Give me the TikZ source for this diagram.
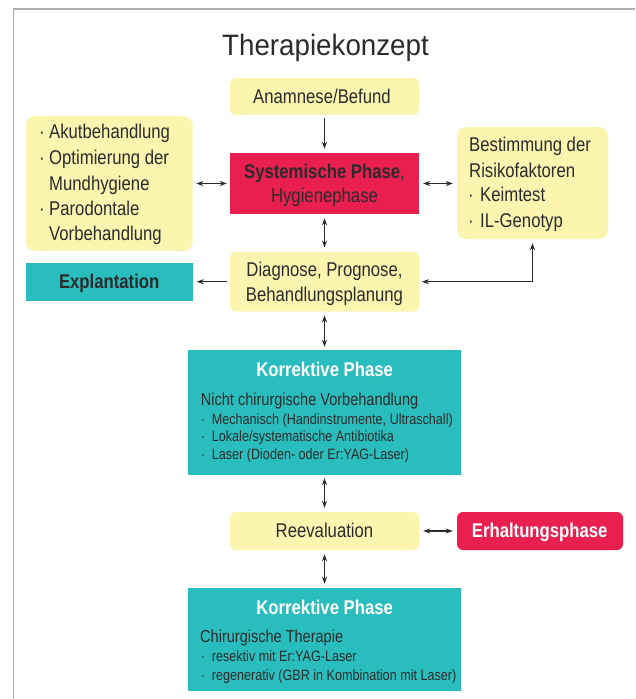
\documentclass[tikz,border=0pt]{standalone}
\usepackage{fontspec}
\setmainfont{Liberation Sans}[FakeStretch=0.84]
\newfontfamily\titlefont{Liberation Sans}[FakeStretch=0.94]
\usetikzlibrary{arrows.meta}
\definecolor{boxyellow}{HTML}{FCF5B0}
\definecolor{boxred}{HTML}{E91F50}
\definecolor{boxteal}{HTML}{2ABDBD}
\definecolor{txt}{HTML}{2B2B2B}
\definecolor{framegray}{HTML}{ADADAD}
\definecolor{arr}{HTML}{2B2B2B}
\newcommand{\bigtxt}{\fontsize{19.9}{25}\selectfont}
\newcommand{\midtxt}{\fontsize{17.3}{20}\selectfont}
\newcommand{\smalltxt}{\fontsize{15}{17}\selectfont}
\newcommand{\bul}[1]{\makebox[#1][l]{·}}
\begin{document}
\begin{tikzpicture}[x=1pt,y=-1pt,
  yellowbox/.style={fill=boxyellow, rounded corners=6pt, inner sep=0pt},
  redbox/.style={fill=boxred, inner sep=0pt},
  tealbox/.style={fill=boxteal, inner sep=0pt},
  lbl/.style={inner sep=0pt, text=txt, font=\bigtxt},
  whitelbl/.style={inner sep=0pt, text=white, font=\bigtxt\bfseries},
  midlbl/.style={inner sep=0pt, text=txt, font=\midtxt},
  smalllbl/.style={inner sep=0pt, text=txt, font=\smalltxt},
  tip/.tip={Stealth[length=7pt,width=5pt]},
  conn/.style={draw=arr, line width=1.1pt, tip-tip},
  oneway/.style={draw=arr, line width=1.1pt, -tip}]
\useasboundingbox (0,0) rectangle (635,699);
\fill[white] (0,0) rectangle (635,699);
% frame
\draw[framegray, line width=1.5pt] (13.3,699) -- (13.3,9) -- (635,9);
% title
\node[anchor=base, inner sep=0pt, text=txt] (title) at (325.5,55) {\titlefont\fontsize{29.5}{34}\selectfont Therapiekonzept};

% boxes
\node[yellowbox, minimum width=189pt, minimum height=37pt] (anam) at (324.5,96.5) {};
\node[redbox, minimum width=189pt, minimum height=61pt] (sys) at (324.5,183.5) {};
\node[yellowbox, rounded corners=9pt, minimum width=166.5pt, minimum height=135pt] (left) at (109.3,183.5) {};
\node[yellowbox, rounded corners=9pt, minimum width=151pt, minimum height=112pt] (right) at (532.5,183) {};
\node[tealbox, minimum width=167pt, minimum height=37.7pt] (expl) at (109.5,281.8) {};
\node[yellowbox, minimum width=189pt, minimum height=60pt] (diag) at (324.5,281.7) {};
\node[tealbox, minimum width=273pt, minimum height=125pt] (korr1) at (324.5,412.5) {};
\node[yellowbox, minimum width=189pt, minimum height=38pt] (reeval) at (324.5,531) {};
\node[redbox, rounded corners=6pt, minimum width=166pt, minimum height=38pt] (erh) at (540,531) {};
\node[tealbox, minimum width=273pt, minimum height=102.7pt] (korr2) at (324.5,639.3) {};

% texts
\node[lbl, anchor=base] (tanam) at (322,103.3) {Anamnese/Befund};
\node[lbl, anchor=base] (tsys1) at (324.5,178) {\textbf{Systemische Phase},};
\node[lbl, anchor=base] (tsys2) at (324.5,202) {Hygienephase};
\node[lbl, anchor=base west] (tl1) at (39,138) {\bul{10pt}Akutbehandlung};
\node[lbl, anchor=base west] (tl2) at (39,164) {\bul{10pt}Optimierung der};
\node[lbl, anchor=base west] (tl3) at (49,190) {Mundhygiene};
\node[lbl, anchor=base west] (tl4) at (39,215) {\bul{10pt}Parodontale};
\node[lbl, anchor=base west] (tl5) at (49,240.7) {Vorbehandlung};
\node[lbl, anchor=base west] (tr1) at (469,151.7) {Bestimmung der};
\node[lbl, anchor=base west] (tr2) at (469,177) {Risikofaktoren};
\node[lbl, anchor=base west] (tr3) at (468,201.7) {\bul{12pt}Keimtest};
\node[lbl, anchor=base west] (tr4) at (468,227) {\bul{12pt}IL-Genotyp};
\node[lbl, anchor=base] (texpl) at (109.2,288.3) {\bfseries Explantation};
\node[lbl, anchor=base] (tdiag1) at (324.5,276) {Diagnose, Prognose,};
\node[lbl, anchor=base] (tdiag2) at (324.5,301.7) {Behandlungsplanung};
\node[whitelbl, anchor=base] (tk1) at (324.7,376) {Korrektive Phase};
\node[midlbl, anchor=base west] (tk1a) at (200.7,405) {Nicht chirurgische Vorbehandlung};
\node[smalllbl, anchor=base west] (tk1b) at (200.7,424) {\bul{11pt}Mechanisch (Handinstrumente, Ultraschall)};
\node[smalllbl, anchor=base west] (tk1c) at (200.7,441.7) {\bul{11pt}Lokale/systematische Antibiotika};
\node[smalllbl, anchor=base west] (tk1d) at (200.7,459.3) {\bul{11pt}Laser (Dioden- oder Er:YAG-Laser)};
\node[lbl, anchor=base] (treeval) at (324.5,537.5) {Reevaluation};
\node[whitelbl, anchor=base] (terh) at (539.7,537.5) {Erhaltungsphase};
\node[whitelbl, anchor=base] (tk2) at (324.7,614.3) {Korrektive Phase};
\node[midlbl, anchor=base west] (tk2a) at (200,642.7) {Chirurgische Therapie};
\node[smalllbl, anchor=base west] (tk2b) at (200.7,661.7) {\bul{11pt}resektiv mit Er:YAG-Laser};
\node[smalllbl, anchor=base west] (tk2c) at (200.7,680.7) {\bul{11pt}regenerativ (GBR in Kombination mit Laser)};

% connectors
\draw[oneway, shorten <=3pt, shorten >=4pt] (anam.south) -- (sys.north);
\draw[conn, shorten <=4pt, shorten >=4pt] (sys.south) -- (diag.north);
\draw[conn, shorten <=3.5pt, shorten >=3pt] (left.east) -- (sys.west);
\draw[conn, shorten <=4pt, shorten >=4pt] (sys.east) -- (sys.east -| right.west);
\draw[oneway, shorten <=2.5pt, shorten >=3.5pt] (diag.west) -- (diag.west -| expl.east);
\draw[conn, shorten <=4pt, shorten >=2.7pt] (right.south) -- (right.south |- diag.east) -- (diag.east);
\draw[conn, shorten <=3.5pt, shorten >=3pt] (diag.south) -- (korr1.north);
\draw[conn, shorten <=3pt, shorten >=4pt] (korr1.south) -- (reeval.north);
\draw[conn, shorten <=4pt, shorten >=4pt] (reeval.east) -- (erh.west);
\draw[conn, shorten <=4pt, shorten >=4pt] (reeval.south) -- (korr2.north);
\end{tikzpicture}
\end{document}
